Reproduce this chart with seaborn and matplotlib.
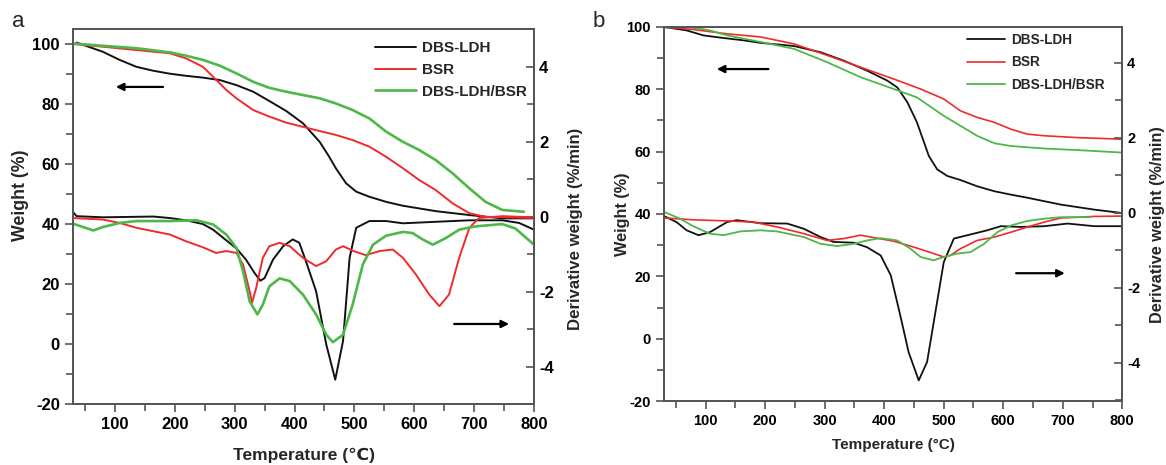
import numpy as np
import pandas as pd
import matplotlib
matplotlib.use("Agg")
import matplotlib.pyplot as plt
import seaborn as sns
from matplotlib.ticker import MultipleLocator

# ---------------- Panel a data ----------------
a_tg_ldh_T = [36, 80, 108, 136, 164, 192, 219, 247, 275, 303, 331, 358, 386, 414, 442, 458, 469, 486, 503, 525, 553, 581, 636, 692, 747, 797]
a_tg_ldh_W = [100.5, 97.4, 94.7, 92.4, 91.1, 90.1, 89.4, 88.8, 88.0, 86.3, 84.1, 81.0, 77.7, 73.6, 67.4, 62.4, 58.6, 53.6, 50.8, 49.1, 47.4, 46.1, 44.3, 43.0, 41.9, 41.9]

a_tg_bsr_T = [30, 80, 136, 192, 219, 247, 264, 286, 303, 331, 358, 386, 414, 442, 469, 497, 525, 553, 581, 608, 636, 664, 692, 719, 747, 786, 800]
a_tg_bsr_W = [100.0, 99.1, 98.0, 96.9, 95.2, 92.4, 89.1, 84.7, 81.9, 78.0, 75.8, 73.8, 72.4, 71.0, 69.7, 68.0, 65.8, 62.4, 58.6, 54.7, 51.3, 46.9, 43.6, 42.4, 42.3, 42.1, 42.1]

a_tg_mix_T = [30, 80, 136, 192, 219, 247, 275, 303, 331, 358, 386, 414, 442, 469, 497, 525, 553, 581, 608, 636, 664, 692, 719, 747, 783]
a_tg_mix_W = [100.2, 99.4, 98.6, 97.2, 96.1, 94.7, 92.8, 90.2, 87.4, 85.4, 84.1, 83.0, 81.9, 80.2, 78.0, 75.2, 70.8, 67.4, 64.7, 61.3, 56.9, 51.9, 47.4, 44.7, 44.1]

a_dtg_ldh_T = [30, 36, 80, 164, 192, 219, 247, 264, 281, 303, 319, 333, 343, 350, 364, 381, 397, 408, 419, 436, 453, 468, 481, 492, 503, 525, 553, 581, 636, 692, 747, 775, 800]
a_dtg_ldh_D = [0.12, 0.01, -0.02, 0.0, -0.04, -0.1, -0.2, -0.35, -0.57, -0.85, -1.15, -1.5, -1.71, -1.64, -1.15, -0.79, -0.61, -0.7, -1.19, -1.99, -3.41, -4.35, -3.32, -1.1, -0.3, -0.12, -0.12, -0.18, -0.14, -0.1, -0.1, -0.17, -0.35]

a_dtg_bsr_T = [30, 80, 108, 136, 164, 192, 219, 247, 269, 286, 303, 314, 325, 329, 336, 347, 358, 375, 392, 414, 436, 453, 469, 481, 497, 519, 542, 564, 581, 603, 625, 642, 658, 675, 692, 708, 747, 800]
a_dtg_bsr_D = [-0.04, -0.08, -0.17, -0.3, -0.39, -0.48, -0.66, -0.82, -0.97, -0.92, -0.97, -1.28, -1.99, -2.3, -1.9, -1.1, -0.79, -0.7, -0.79, -1.1, -1.32, -1.19, -0.88, -0.79, -0.91, -1.03, -0.92, -0.88, -1.1, -1.55, -2.08, -2.39, -2.08, -1.1, -0.3, -0.04, 0.01, -0.02]

a_dtg_mix_T = [30, 47, 64, 80, 108, 136, 192, 236, 264, 286, 303, 314, 325, 338, 347, 358, 375, 392, 414, 436, 453, 464, 481, 497, 514, 531, 553, 581, 597, 614, 631, 653, 675, 703, 747, 769, 800]
a_dtg_mix_D = [-0.19, -0.28, -0.37, -0.28, -0.17, -0.12, -0.12, -0.1, -0.21, -0.48, -0.84, -1.46, -2.26, -2.61, -2.35, -1.86, -1.65, -1.72, -2.08, -2.61, -3.15, -3.35, -3.15, -2.35, -1.28, -0.75, -0.51, -0.41, -0.44, -0.61, -0.75, -0.57, -0.35, -0.26, -0.2, -0.32, -0.75]

# ---------------- Panel b data ----------------
b_tg_ldh_T = [30, 68, 96, 124, 164, 192, 248, 293, 332, 371, 405, 422, 439, 455, 467, 475, 489, 506, 528, 556, 585, 613, 641, 697, 753, 800]
b_tg_ldh_W = [100.0, 98.9, 97.3, 96.6, 95.7, 94.9, 93.9, 91.9, 89.2, 86.0, 82.8, 80.6, 75.8, 69.4, 62.9, 58.6, 54.3, 52.2, 50.9, 48.9, 47.3, 46.2, 45.2, 43.0, 41.4, 40.3]

b_tg_bsr_T = [30, 79, 136, 192, 248, 304, 360, 416, 461, 500, 528, 556, 585, 613, 641, 669, 725, 800]
b_tg_bsr_W = [100.0, 99.2, 97.8, 96.8, 94.6, 90.9, 87.1, 83.3, 80.1, 76.9, 73.1, 71.0, 69.4, 67.2, 65.6, 65.1, 64.5, 64.0]

b_tg_mix_T = [30, 60, 90, 107, 136, 192, 248, 304, 360, 416, 455, 500, 528, 556, 585, 613, 669, 725, 800]
b_tg_mix_W = [99.8, 100.0, 99.5, 98.9, 97.3, 95.2, 93.0, 88.7, 83.9, 80.1, 77.4, 71.5, 68.3, 65.1, 62.7, 61.8, 61.0, 60.5, 59.7]

b_dtg_ldh_T = [30, 51, 68, 88, 107, 136, 152, 192, 237, 265, 293, 315, 349, 371, 394, 411, 427, 441, 458, 472, 486, 500, 517, 540, 573, 596, 629, 669, 708, 753, 800]
b_dtg_ldh_D = [-0.09, -0.25, -0.47, -0.6, -0.52, -0.25, -0.2, -0.28, -0.29, -0.43, -0.65, -0.78, -0.8, -0.92, -1.14, -1.67, -2.74, -3.72, -4.47, -3.98, -2.65, -1.32, -0.69, -0.6, -0.47, -0.36, -0.38, -0.36, -0.29, -0.36, -0.36]

b_dtg_bsr_T = [30, 79, 136, 180, 220, 265, 304, 332, 360, 388, 416, 444, 472, 500, 511, 528, 556, 585, 613, 641, 669, 697, 753, 800]
b_dtg_bsr_D = [-0.14, -0.19, -0.22, -0.25, -0.38, -0.56, -0.74, -0.69, -0.6, -0.68, -0.76, -0.89, -1.03, -1.18, -1.14, -0.96, -0.74, -0.65, -0.52, -0.38, -0.25, -0.14, -0.1, -0.09]

b_dtg_mix_T = [30, 57, 79, 107, 130, 158, 192, 220, 265, 293, 321, 349, 371, 394, 422, 444, 461, 483, 500, 523, 545, 568, 590, 613, 641, 669, 697, 747]
b_dtg_mix_D = [0.02, -0.16, -0.36, -0.56, -0.6, -0.5, -0.47, -0.5, -0.65, -0.83, -0.89, -0.83, -0.74, -0.68, -0.74, -0.96, -1.18, -1.27, -1.18, -1.09, -1.05, -0.83, -0.52, -0.34, -0.22, -0.16, -0.12, -0.12]

series_names = ["DBS-LDH", "BSR", "DBS-LDH/BSR"]
x_ticks = [100, 200, 300, 400, 500, 600, 700, 800]

# ---------------- styling ----------------
sns.set_theme(style="ticks")
FAM = ["Liberation Sans", "DejaVu Sans", "Noto Sans CJK SC"]
plt.rcParams["font.family"] = FAM
plt.rcParams["font.weight"] = "bold"
plt.rcParams["axes.labelweight"] = "bold"
plt.rcParams["axes.unicode_minus"] = False

colors = {"DBS-LDH": "#111111", "BSR": "#f02a2a", "DBS-LDH/BSR": "#4db848"}
SPINE = "#555555"

fig = plt.figure(figsize=(11.66, 4.65), dpi=100)


def draw_panel(rect, tg, dtg, ylim_l, ylim_r, xlabel, tick_fs, leg_fs, label_fs,
               lw_list, xpad, lcoords, rcoords, leg_anchor, leg_kw):
    ax = fig.add_axes(rect)
    ax2 = ax.twinx()
    handles = []
    for name, (T, W), lw in zip(series_names, tg, lw_list):
        df = pd.DataFrame({"T": T, "W": W})
        sns.lineplot(data=df, x="T", y="W", ax=ax, color=colors[name], lw=lw,
                     sort=False, estimator=None, legend=False)
    for name, (T, D), lw in zip(series_names, dtg, lw_list):
        df = pd.DataFrame({"T": T, "D": D})
        sns.lineplot(data=df, x="T", y="D", ax=ax2, color=colors[name], lw=lw,
                     sort=False, estimator=None, legend=False)
        handles.append(plt.Line2D([], [], color=colors[name], lw=lw, label=name))
    ax.set_xlim(30, 800)
    ax.set_ylim(*ylim_l)
    ax2.set_ylim(*ylim_r)
    ax.set_xticks(x_ticks)
    ax.xaxis.set_minor_locator(MultipleLocator(50))
    ax.set_yticks([-20, 0, 20, 40, 60, 80, 100])
    ax.yaxis.set_minor_locator(MultipleLocator(10))
    ax2.set_yticks([-4, -2, 0, 2, 4])
    ax2.yaxis.set_minor_locator(MultipleLocator(1))
    ax.tick_params(axis="both", which="both", direction="out", colors=SPINE,
                   labelcolor="black", labelsize=tick_fs, width=1.2)
    ax.tick_params(which="major", length=6)
    ax.tick_params(which="minor", length=5)
    ax2.tick_params(axis="y", which="both", direction="in", colors=SPINE,
                    labelcolor="black", labelsize=tick_fs, width=1.2)
    ax2.tick_params(which="major", length=6)
    ax2.tick_params(which="minor", length=5)
    for a in (ax, ax2):
        for s in a.spines.values():
            s.set_visible(True)
            s.set_color(SPINE)
            s.set_linewidth(1.3)
        for lab in a.get_xticklabels() + a.get_yticklabels():
            lab.set_fontweight("bold")
            lab.set_family(FAM)
    ax.set_xlabel(xlabel, fontsize=label_fs[0], fontweight="bold", family=FAM, labelpad=xpad)
    ax.set_ylabel("Weight (%)", fontsize=label_fs[1], fontweight="bold", family=FAM)
    ax2.set_ylabel("Derivative weight (%/min)", fontsize=label_fs[2], fontweight="bold",
                   family=FAM)
    ax.yaxis.set_label_coords(*lcoords)
    ax2.yaxis.set_label_coords(*rcoords)
    ax2.legend(handles=handles, loc="upper right", bbox_to_anchor=leg_anchor,
               frameon=False, prop={"family": FAM, "weight": "bold", "size": leg_fs},
               **leg_kw)
    return ax, ax2


axA, axA2 = draw_panel(
    [0.0626, 0.131, 0.3954, 0.8066],
    [(a_tg_ldh_T, a_tg_ldh_W), (a_tg_bsr_T, a_tg_bsr_W), (a_tg_mix_T, a_tg_mix_W)],
    [(a_dtg_ldh_T, a_dtg_ldh_D), (a_dtg_bsr_T, a_dtg_bsr_D), (a_dtg_mix_T, a_dtg_mix_D)],
    (-20, 105), (-5, 5), "Temperature (\u2103)", 12, 11, (12.5, 12.8, 12.1),
    [1.4, 1.4, 1.9], 11, (-0.095, 0.557), (1.074, 0.467), (1.011, 1.0),
    dict(handlelength=2.7, handletextpad=0.4, labelspacing=0.5, borderaxespad=0.4))

axB, axB2 = draw_panel(
    [0.5695, 0.1376, 0.393, 0.8044],
    [(b_tg_ldh_T, b_tg_ldh_W), (b_tg_bsr_T, b_tg_bsr_W), (b_tg_mix_T, b_tg_mix_W)],
    [(b_dtg_ldh_T, b_dtg_ldh_D), (b_dtg_bsr_T, b_dtg_bsr_D), (b_dtg_mix_T, b_dtg_mix_D)],
    (-20, 100), (-5.02, 4.95), "Temperature (\u00b0C)", 10.5, 9.8, (11, 11.7, 11.7),
    [1.3, 1.2, 1.3], 7, (-0.074, 0.5), (1.061, 0.472), (0.985, 1.013),
    dict(handlelength=2.8, handletextpad=0.44, labelspacing=0.62, borderaxespad=0.4))

arrow = dict(arrowstyle="-|>", color="black", lw=1.6, mutation_scale=11)
axA.annotate("", xy=(97, 85.7), xytext=(185, 85.7), arrowprops=arrow)
axA.annotate("", xy=(763, 6.7), xytext=(662, 6.7), arrowprops=arrow)
axB.annotate("", xy=(114, 86.5), xytext=(210, 86.5), arrowprops=arrow)
axB.annotate("", xy=(708, 21), xytext=(617, 21), arrowprops=arrow)

fig.text(0.010, 0.942, "a", fontsize=16, fontweight="normal", family=FAM)
fig.text(0.508, 0.942, "b", fontsize=16, fontweight="normal", family=FAM)

fig.savefig("out.png", dpi=100)
